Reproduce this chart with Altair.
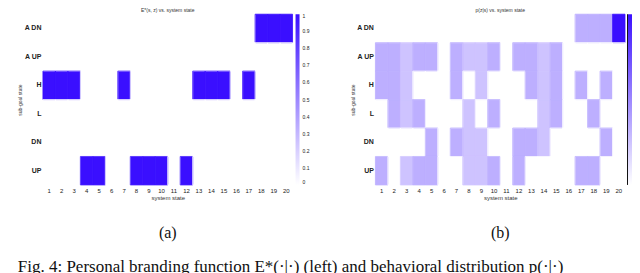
import altair as alt
import pandas as pd

states = list(range(1, 21))
subgoals = ["A DN", "A UP", "H", "L", "DN", "UP"]

# panel (a): branding function, one row per sub-goal state, columns = system states 1..20
a_ADN = [0, 0, 0, 0, 0, 0, 0, 0, 0, 0, 0, 0, 0, 0, 0, 0, 0, 1, 1, 1]
a_AUP = [0, 0, 0, 0, 0, 0, 0, 0, 0, 0, 0, 0, 0, 0, 0, 0, 0, 0, 0, 0]
a_H   = [1, 1, 1, 0, 0, 0, 1, 0, 0, 0, 0, 0, 1, 1, 1, 0, 1, 0, 0, 0]
a_L   = [0, 0, 0, 0, 0, 0, 0, 0, 0, 0, 0, 0, 0, 0, 0, 0, 0, 0, 0, 0]
a_DN  = [0, 0, 0, 0, 0, 0, 0, 0, 0, 0, 0, 0, 0, 0, 0, 0, 0, 0, 0, 0]
a_UP  = [0, 0, 0, 1, 1, 0, 0, 1, 1, 1, 0, 1, 0, 0, 0, 0, 0, 0, 0, 0]

# panel (b): distribution over sub-goal states
t = 0.333
q = 0.25
b_ADN = [0, 0, 0, 0, 0, 0, 0, 0, 0, 0, 0, 0, 0, 0, 0, 0, t, t, t, 1]
b_AUP = [t, t, q, t, t, 0, t, q, q, t, 0, t, t, q, t, 0, 0, 0, 0, 0]
b_H   = [t, t, q, 0, 0, 0, t, 0, q, 0, 0, 0, t, q, t, 0, t, 0, t, 0]
b_L   = [0, t, q, t, 0, 0, 0, q, 0, t, 0, 0, 0, q, t, 0, 0, t, 0, 0]
b_DN  = [0, 0, 0, 0, t, 0, t, q, q, 0, 0, t, t, q, 0, 0, 0, 0, t, 0]
b_UP  = [t, 0, q, t, t, 0, 0, q, q, t, 0, t, 0, 0, 0, 0, t, t, 0, 0]

legend_values = [0, 0.1, 0.2, 0.3, 0.4, 0.5, 0.6, 0.7, 0.8, 0.9, 1]

title_a = "E*(s, z) vs. system state"
title_b = "p(z|s) vs. system state"
label_a = "(a)"
label_b = "(b)"
caption = "Fig. 4:   Personal branding function E*(·|·) (left) and behavioral distribution p(·|·)"

W, H = 250, 171
LOW, HIGH = "#ffffff", "#3a0fff"


def long_df(rows):
    recs = []
    for name, vals in zip(subgoals, rows):
        for s, v in zip(states, vals):
            recs.append({"state": s, "subgoal": name, "value": v, "edge": v})
    return pd.DataFrame(recs)


def panel(rows, title, label, show_labels):
    df = long_df(rows)
    cscale = alt.Scale(domain=[0, 1], range=[LOW, HIGH], interpolate="rgb")
    sscale = alt.Scale(domain=[0, 1.0001], range=[LOW, HIGH], interpolate="rgb")
    leg_kw = dict(type="gradient", title=None, orient="right", offset=3,
                  gradientLength=H, gradientThickness=4,
                  gradientStrokeWidth=0, values=legend_values,
                  format="~g", labelFontSize=5, labelOffset=3, labelColor="#222")
    if not show_labels:
        leg_kw["labelExpr"] = "''"
        leg_kw["labelOffset"] = 0
    xenc = alt.X("state:O", sort=states,
                 scale=alt.Scale(paddingInner=0, paddingOuter=0),
                 axis=alt.Axis(title="system state", labelAngle=0, ticks=False,
                               domain=False, labelFontSize=6, labelPadding=3,
                               titleFontSize=6, titleFontWeight="normal",
                               titlePadding=1, titleColor="#333", labelColor="#222"))
    yenc = alt.Y("subgoal:N", sort=subgoals,
                 scale=alt.Scale(paddingInner=0, paddingOuter=0),
                 axis=alt.Axis(title="sub-goal state", ticks=False, domain=False,
                               labelFontSize=7, labelFontWeight="bold",
                               labelPadding=2, titleFontSize=5,
                               titleFontWeight="normal", titlePadding=1,
                               titleColor="#333", labelColor="#222"))
    heat = alt.Chart(df).mark_rect(strokeWidth=0).encode(
        x=xenc, y=yenc,
        color=alt.Color("value:Q", scale=cscale, legend=alt.Legend(**leg_kw)),
    )
    edges = alt.Chart(df).mark_rect(filled=False, strokeWidth=0.8).encode(
        x=alt.X("state:O", sort=states), y=alt.Y("subgoal:N", sort=subgoals),
        stroke=alt.Stroke("edge:Q", scale=sscale, legend=None),
    )
    ttl = alt.Chart(pd.DataFrame({"t": [title]})).mark_text(
        fontSize=5, baseline="top", align="center", color="#333"
    ).encode(text="t:N", x=alt.value(W / 2), y=alt.value(-6))
    lab = alt.Chart(pd.DataFrame({"t": [label]})).mark_text(
        fontSize=16, baseline="middle", align="center", font="Liberation Serif",
        color="#111"
    ).encode(text="t:N", x=alt.value(W / 2), y=alt.value(H + 48))
    layers = [heat, edges, ttl, lab]
    if not show_labels:
        bar_edge = alt.Chart(pd.DataFrame({"t": [0]})).mark_rule(
            color="#111", strokeWidth=1
        ).encode(x=alt.value(W + 2.5), y=alt.value(0), y2=alt.value(H))
        layers.append(bar_edge)
    return alt.layer(*layers).properties(width=W, height=H)


left = panel([a_ADN, a_AUP, a_H, a_L, a_DN, a_UP], title_a, label_a, True)
right = panel([b_ADN, b_AUP, b_H, b_L, b_DN, b_UP], title_b, label_b, False)

chart = alt.hconcat(left, right, spacing=40).resolve_scale(
    color="independent", stroke="independent"
).properties(
    title=alt.TitleParams(caption, orient="bottom", anchor="start", fontSize=17,
                          font="Liberation Serif", fontWeight="normal",
                          offset=18, color="#111", limit=620),
    padding={"left": 9, "top": 0, "right": 0, "bottom": 0},
).configure_view(stroke=None)

chart.save("out.html", embed_options={"renderer": "svg", "actions": False})
